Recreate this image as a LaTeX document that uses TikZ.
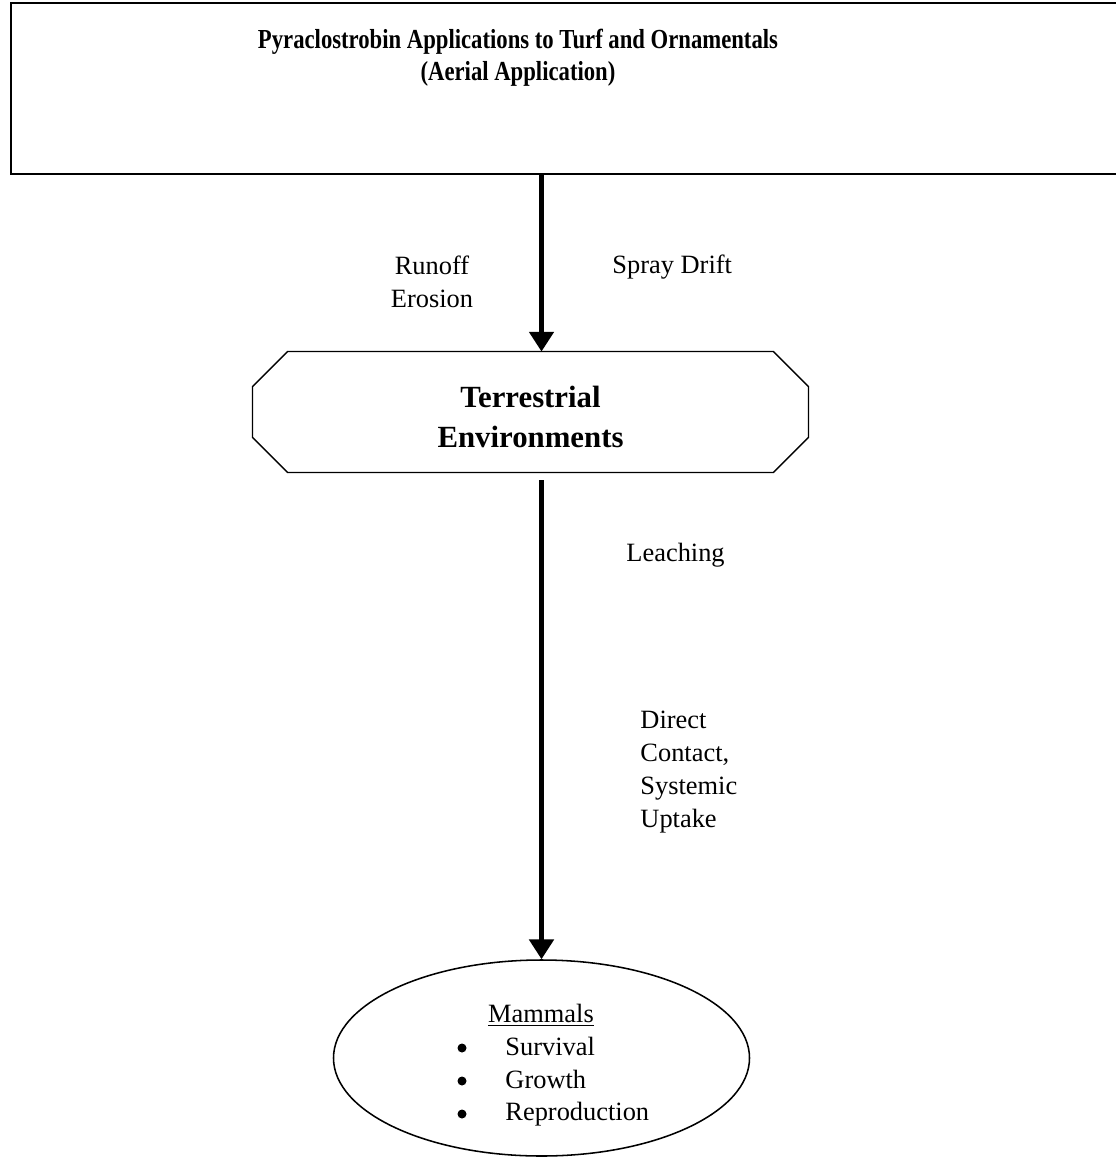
\documentclass[tikz,border=0pt]{standalone}
\usepackage{fontspec}
\setmainfont{Liberation Serif}
\newfontfamily\titlefont[FakeStretch=0.825]{Liberation Serif}
\usetikzlibrary{arrows.meta,shapes.geometric}
\newdimen\PX \PX=0.4545pt
\begin{document}
\begin{tikzpicture}[x=0.4545pt,y=-0.4545pt,
  lbl/.style={font=\fontsize{12}{15}\selectfont, inner sep=0pt, align=left},
  dot/.style={circle, fill, inner sep=0pt, minimum size=9\PX},
  flow/.style={line width=2pt, -{Triangle[width=11pt,length=9pt]}},
]
\useasboundingbox (0,0) rectangle (1115,1158);
% top box
\node[draw, line width=0.9pt, anchor=north west, minimum width=1110\PX, minimum height=171\PX, inner sep=0pt] (app) at (10,2) {};
\node[lbl, font=\titlefont\bfseries\fontsize{12.5}{14.5}\selectfont, align=center] (apptext) at (518,58) {Pyraclostrobin Applications to Turf and Ornamentals\\(Aerial Application)};
% octagon
\node[minimum width=555\PX, minimum height=120\PX, inner sep=0pt] (env) at (530.5,412) {};
\draw[line width=0.6pt] ([xshift=35\PX]env.north west) -- ([xshift=-35\PX]env.north east) -- ([yshift=-35\PX]env.north east) -- ([yshift=35\PX]env.south east) -- ([xshift=-35\PX]env.south east) -- ([xshift=35\PX]env.south west) -- ([yshift=35\PX]env.south west) -- ([yshift=-35\PX]env.north west) -- cycle;
\node[lbl, font=\bfseries\fontsize{14}{18}\selectfont, align=center] (envtext) at (530.5,417) {Terrestrial\\Environments};
% ellipse
\node[draw, ellipse, line width=0.7pt, minimum width=416\PX, minimum height=196\PX, inner sep=0pt] (mam) at (541.5,1058) {};
\node[lbl, anchor=base] (mamtitle) at (541,1022) {\underline{Mammals}};
\node[dot] (b1) at (462,1048) {};
\node[dot] (b2) at (462,1081) {};
\node[dot] (b3) at (462,1114) {};
\node[lbl, anchor=base west] (i1) at (505,1055) {Survival};
\node[lbl, anchor=base west] (i2) at (505,1088) {Growth};
\node[lbl, anchor=base west] (i3) at (505,1120) {Reproduction};
% arrows
\draw[flow] (app.south -| mam.north) -- (env.north -| mam.north);
\draw[flow] ([yshift=-8\PX]env.south -| mam.north) -- (mam.north);
% labels
\node[lbl, align=center] (runoff) at (432,282) {Runoff\\Erosion};
\node[lbl, anchor=west] (spray) at (612,267) {Spray Drift};
\node[lbl, anchor=west] (leach) at (626,555) {Leaching};
\node[lbl, anchor=west] (direct) at (640,772) {Direct\\Contact,\\Systemic\\Uptake};
\end{tikzpicture}
\end{document}
